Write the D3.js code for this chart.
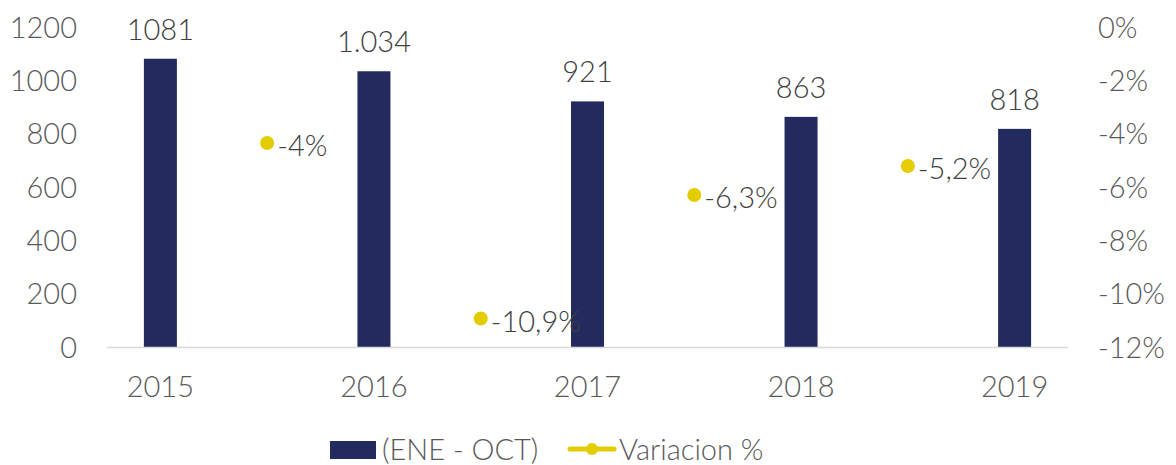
<!DOCTYPE html>
<html>
<head>
<meta charset="utf-8">
<script src="https://cdn.jsdelivr.net/npm/d3@7"></script>
<style>
  body { margin: 0; background: #fff; }
  svg text { font-family: Lato, "Open Sans", sans-serif; font-weight: 300; }
</style>
</head>
<body>
<div id="chart"></div>
<script>
const years = ["2015", "2016", "2017", "2018", "2019"];
const totals = [1081, 1034, 921, 863, 818];
const totalLabels = ["1081", "1.034", "921", "863", "818"];
const variation = [-4.35, -10.93, -6.30, -5.21];
const variationLabels = ["-4%", "-10,9%", "-6,3%", "-5,2%"];
const leftTicks = [0, 200, 400, 600, 800, 1000, 1200];
const rightTicks = [0, -2, -4, -6, -8, -10, -12];

const width = 1176, height = 465;
const navy = "#232b5e", yellow = "#e3cd00", grey = "#595959";
const fontSize = 29;

const svg = d3.select("#chart").append("svg")
    .attr("width", width)
    .attr("height", height);

// years sit on every other slot of a 9 slot axis, variations in between
var x = d3.scaleLinear().domain([-0.25, 4.25]).range([107, 1068]);
var y = d3.scaleLinear().domain([0, 1200]).range([347, 27]);
var y2 = d3.scaleLinear().domain([-12, 0]).range([347, 27]);

// left axis
svg.append("g")
    .attr("transform", "translate(77,0)")
    .call(d3.axisLeft(y).tickValues(leftTicks).tickSize(0).tickPadding(0).tickFormat(d => String(d)))
    .call(g => g.select(".domain").remove())
    .selectAll("text")
    .attr("fill", grey)
    .attr("font-size", fontSize)
    .attr("dy", "0.35em");

// right axis
svg.append("g")
    .attr("transform", "translate(1098,0)")
    .call(d3.axisRight(y2).tickValues(rightTicks).tickSize(0).tickPadding(0).tickFormat(d => (d < 0 ? "-" + Math.abs(d) : d) + "%"))
    .call(g => g.select(".domain").remove())
    .selectAll("text")
    .attr("fill", grey)
    .attr("font-size", fontSize)
    .attr("dy", "0.35em");

// bars
var barW = 33;
svg.append("g").selectAll("rect")
    .data(totals)
    .join("rect")
    .attr("x", (d, i) => x(i) - barW / 2)
    .attr("y", d => y(d))
    .attr("width", barW)
    .attr("height", d => y(0) - y(d))
    .attr("fill", navy);

// baseline
svg.append("line")
    .attr("x1", x(-0.25)).attr("x2", x(4.25))
    .attr("y1", y(0) + 0.5).attr("y2", y(0) + 0.5)
    .attr("stroke", "#d9d9d9")
    .attr("stroke-width", 1.5);

// bar labels
svg.append("g").selectAll("text")
    .data(totals)
    .join("text")
    .attr("x", (d, i) => x(i))
    .attr("y", d => y(d) - 19)
    .attr("text-anchor", "middle")
    .attr("font-size", fontSize)
    .attr("fill", "#404040")
    .text((d, i) => totalLabels[i]);

// year labels
svg.append("g").selectAll("text")
    .data(years)
    .join("text")
    .attr("x", (d, i) => x(i))
    .attr("y", 387)
    .attr("dy", "0.35em")
    .attr("text-anchor", "middle")
    .attr("font-size", fontSize)
    .attr("fill", grey)
    .text(d => d);

// variation points
svg.append("g").selectAll("circle")
    .data(variation)
    .join("circle")
    .attr("cx", (d, i) => x(i + 0.5))
    .attr("cy", d => y2(d))
    .attr("r", 7)
    .attr("fill", yellow);

svg.append("g").selectAll("text")
    .data(variation)
    .join("text")
    .attr("x", (d, i) => x(i + 0.5) + 10)
    .attr("y", d => y2(d) + 3)
    .attr("dy", "0.35em")
    .attr("font-size", fontSize)
    .attr("fill", "#404040")
    .text((d, i) => variationLabels[i]);

// legend
var legend = svg.append("g");
legend.append("rect")
    .attr("x", 330).attr("y", 441)
    .attr("width", 46).attr("height", 18)
    .attr("fill", navy);
legend.append("text")
    .attr("x", 382).attr("y", 450)
    .attr("dy", "0.35em")
    .attr("font-size", fontSize)
    .attr("fill", grey)
    .text("(ENE - OCT)");
legend.append("line")
    .attr("x1", 570).attr("x2", 614)
    .attr("y1", 449).attr("y2", 449)
    .attr("stroke", yellow)
    .attr("stroke-width", 5)
    .attr("stroke-linecap", "round");
legend.append("circle")
    .attr("cx", 592).attr("cy", 449)
    .attr("r", 6)
    .attr("fill", yellow);
legend.append("text")
    .attr("x", 619).attr("y", 450)
    .attr("dy", "0.35em")
    .attr("font-size", fontSize)
    .attr("fill", grey)
    .text("Variacion %");
</script>
</body>
</html>
